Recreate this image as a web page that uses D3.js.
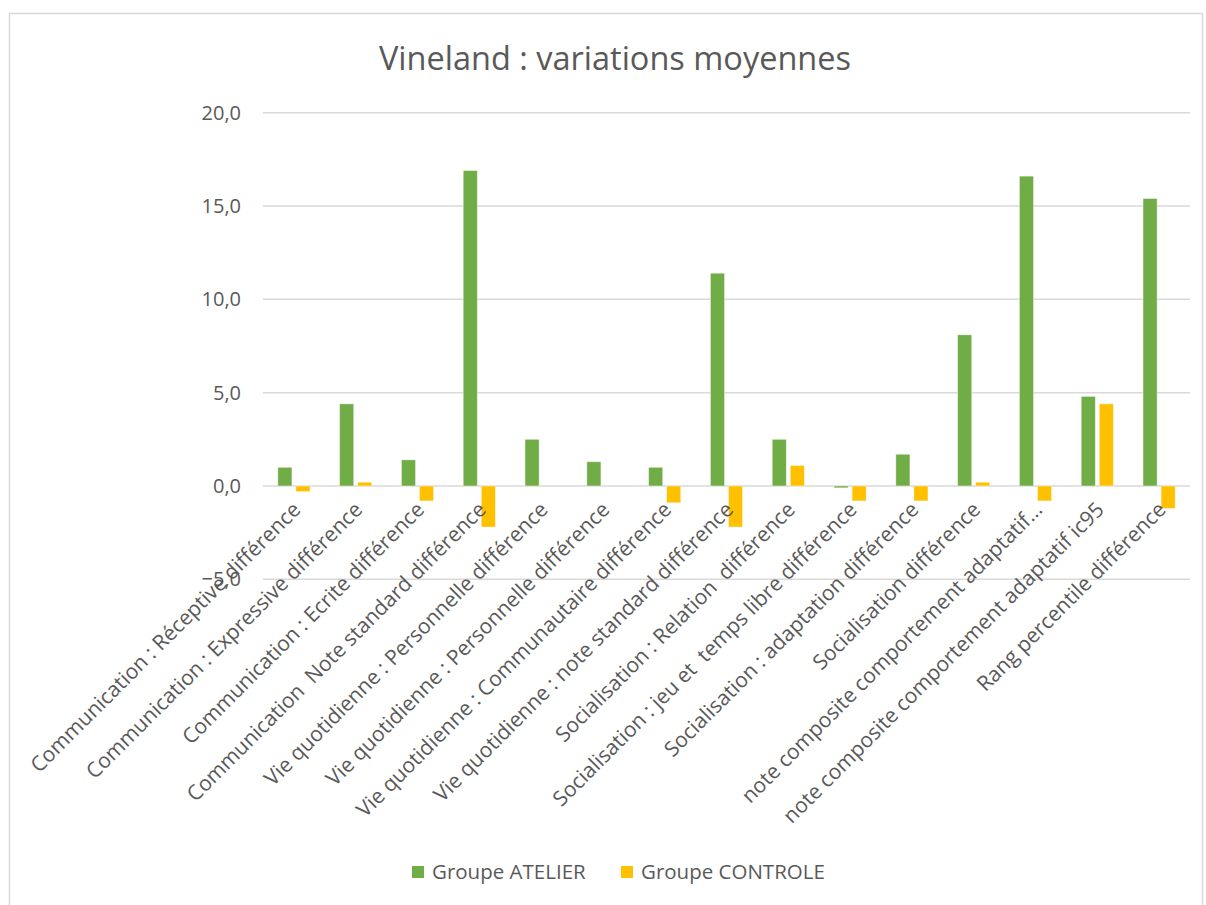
<!DOCTYPE html>
<html>
<head>
<meta charset="utf-8">
<script src="https://cdn.jsdelivr.net/npm/d3@7/dist/d3.min.js"></script>
<style>
  body { margin: 0; background: #fff; }
  svg text { font-family: "Open Sans", "Noto Sans", sans-serif; fill: #595959; }
</style>
</head>
<body>
<div id="chart"></div>
<script>
// categories (x axis)
var categories = [
    "Communication : Réceptive différence",
    "Communication : Expressive différence",
    "Communication : Ecrite différence",
    "Communication  Note standard différence",
    "Vie quotidienne : Personnelle différence",
    "Vie quotidienne : Personnelle différence",
    "Vie quotidienne : Communautaire différence",
    "Vie quotidienne : note standard différence",
    "Socialisation : Relation  différence",
    "Socialisation : jeu et  temps libre différence",
    "Socialisation : adaptation différence",
    "Socialisation différence",
    "note composite comportement adaptatif…",
    "note composite comportement adaptatif ic95",
    "Rang percentile différence"
];

// series values
var atelier  = [1.0, 4.4, 1.4, 16.9, 2.5, 1.3, 1.0, 11.4, 2.5, -0.1, 1.7, 8.1, 16.6, 4.8, 15.4];
var controle = [-0.3, 0.2, -0.8, -2.2, 0, 0, -0.9, -2.2, 1.1, -0.8, -0.8, 0.2, -0.8, 4.4, -1.2];

var seriesNames = ["Groupe ATELIER", "Groupe CONTROLE"];
var seriesColors = ["#70AD47", "#FFC000"];

// y axis ticks
var yTicks = [-5, 0, 5, 10, 15, 20];

(function () {
    "use strict";

    var W = 1206, H = 905;
    var margin = {left: 263, right: 16, top: 113, bottom: 326};

    var svg = d3.select("#chart").append("svg")
        .attr("width", W).attr("height", H);

    // chart frame
    svg.append("rect")
        .attr("x", 9.5).attr("y", 13.5)
        .attr("width", 1193).attr("height", 900)
        .attr("fill", "none").attr("stroke", "#d9d9d9").attr("stroke-width", 1.5);

    var fr = d3.formatLocale({decimal: ",", thousands: " ", grouping: [3], currency: ["", "€"]});
    var fmt = fr.format(".1f");

    var x0 = d3.scaleBand()
        .domain(d3.range(categories.length))
        .range([margin.left, W - margin.right]);

    var x1 = d3.scaleBand()
        .domain([0, 1])
        .range([0, x0.bandwidth() * 0.52])
        .paddingInner(0.22);

    var y = d3.scaleLinear()
        .domain([-5, 20])
        .range([579.3, 112.7]);

    // gridlines
    svg.append("g").selectAll("line")
        .data(yTicks).enter().append("line")
        .attr("x1", margin.left).attr("x2", W - margin.right)
        .attr("y1", function (d) { return y(d); })
        .attr("y2", function (d) { return y(d); })
        .attr("stroke", "#d9d9d9").attr("stroke-width", 1.5);

    // y axis labels
    var yAxis = d3.axisLeft(y).tickValues(yTicks).tickFormat(fmt).tickSize(0).tickPadding(22);
    var gy = svg.append("g")
        .attr("transform", "translate(" + margin.left + ",0)")
        .call(yAxis);
    gy.select(".domain").remove();
    gy.selectAll("text")
        .style("font-size", "20px")
        .attr("fill", "#595959");

    // bars
    var groupOffset = (x0.bandwidth() - x0.bandwidth() * 0.52) / 2;
    var rows = categories.map(function (c, i) { return {i: i, vals: [atelier[i], controle[i]]}; });

    var groups = svg.append("g").selectAll("g")
        .data(rows).enter().append("g")
        .attr("transform", function (d) { return "translate(" + (x0(d.i) + groupOffset) + ",0)"; });

    groups.selectAll("rect")
        .data(function (d) { return d.vals.map(function (v, k) { return {k: k, v: v}; }); })
        .enter().append("rect")
        .filter(function (d) { return d.v !== 0; })
        .attr("x", function (d) { return x1(d.k); })
        .attr("width", x1.bandwidth())
        .attr("y", function (d) { return y(Math.max(0, d.v)); })
        .attr("height", function (d) { return Math.abs(y(d.v) - y(0)); })
        .attr("fill", function (d) { return seriesColors[d.k]; })
        .attr("stroke", "#ffffff").attr("stroke-opacity", 0.5).attr("stroke-width", 0.8);

    // x labels, rotated
    svg.append("g").selectAll("text")
        .data(categories).enter().append("text")
        .attr("transform", function (d, i) {
            var cx = x0(i) + x0.bandwidth() / 2 + 8;
            return "translate(" + cx + ",511) rotate(-45)";
        })
        .attr("text-anchor", "end")
        .style("font-size", "21px")
        .style("white-space", "pre")
        .text(function (d) { return d; });

    // title
    svg.append("text")
        .attr("x", 615).attr("y", 70)
        .attr("text-anchor", "middle")
        .style("font-size", "32.5px")
        .text("Vineland : variations moyennes");

    // legend
    var legendX = [412, 621];
    var lg = svg.append("g").selectAll("g")
        .data(seriesNames).enter().append("g")
        .attr("transform", function (d, i) { return "translate(" + legendX[i] + ",866)"; });
    lg.append("rect")
        .attr("width", 12).attr("height", 12)
        .attr("fill", function (d, i) { return seriesColors[i]; });
    lg.append("text")
        .attr("x", 20).attr("y", 13)
        .style("font-size", "20.5px")
        .text(function (d) { return d; });
})();
</script>
</body>
</html>
